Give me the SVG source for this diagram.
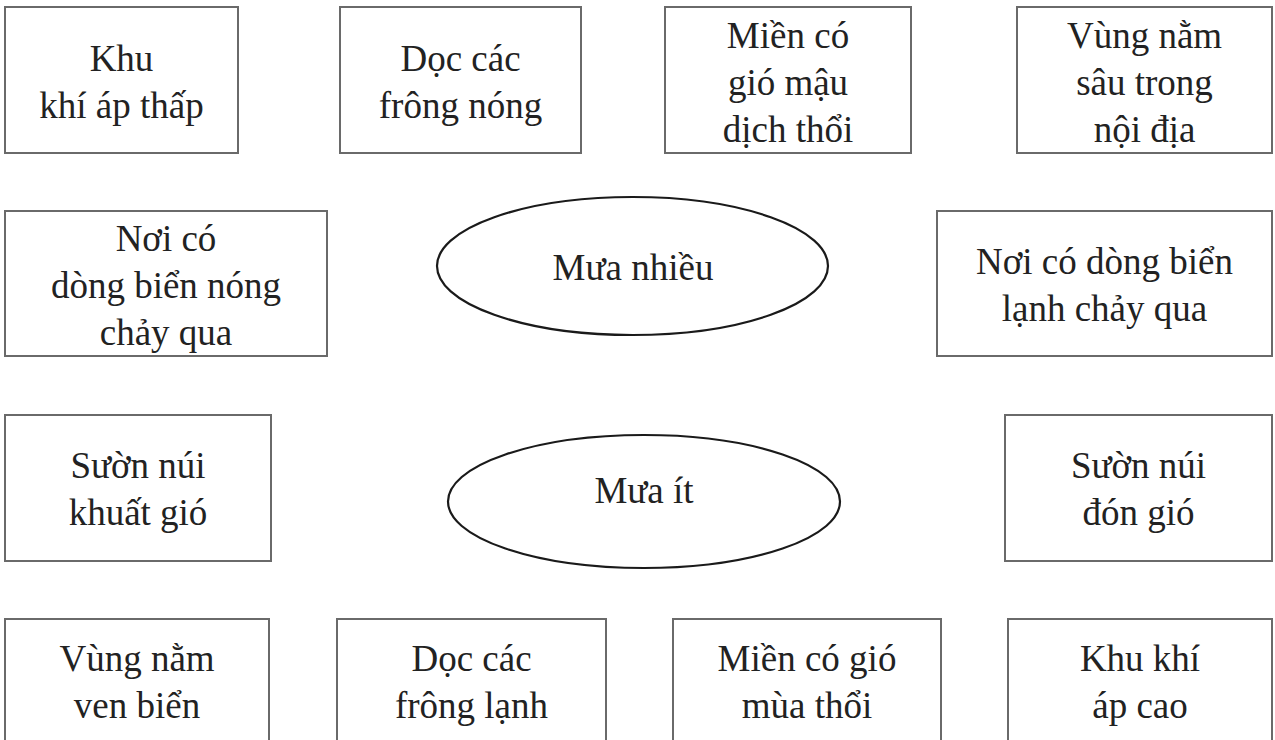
<svg xmlns="http://www.w3.org/2000/svg" width="1275" height="740" viewBox="0 0 1275 740">
<style>
.box{fill:#fff;stroke:#6a6a6a;stroke-width:2}
.ell{fill:#fff;stroke:#1a1a1a;stroke-width:2.2}
text{font-family:"Liberation Serif","Times New Roman",serif;font-size:37px;fill:#222;text-anchor:middle}
</style>
<rect width="1275" height="740" fill="#fff"/>
<g id="connectors"></g>
<g id="n1"><rect class="box" x="5" y="7" width="233" height="146"/><text x="121.5" y="71">Khu</text><text x="121.5" y="118">khí áp thấp</text></g>
<g id="n2"><rect class="box" x="340" y="7" width="241" height="146"/><text x="460.5" y="71">Dọc các</text><text x="460.5" y="118">frông nóng</text></g>
<g id="n3"><rect class="box" x="665" y="7" width="246" height="146"/><text x="788" y="48">Miền có</text><text x="788" y="95">gió mậu</text><text x="788" y="142">dịch thổi</text></g>
<g id="n4"><rect class="box" x="1017" y="7" width="255" height="146"/><text x="1144.5" y="48">Vùng nằm</text><text x="1144.5" y="95">sâu trong</text><text x="1144.5" y="142">nội địa</text></g>
<g id="n5"><rect class="box" x="5" y="211" width="322" height="145"/><text x="166" y="251">Nơi có</text><text x="166" y="298">dòng biển nóng</text><text x="166" y="345">chảy qua</text></g>
<g id="n6"><ellipse class="ell" cx="632.5" cy="266" rx="195.5" ry="69"/><text x="633" y="280">Mưa nhiều</text></g>
<g id="n7"><rect class="box" x="937" y="211" width="335" height="145"/><text x="1104.5" y="274">Nơi có dòng biển</text><text x="1104.5" y="321">lạnh chảy qua</text></g>
<g id="n8"><rect class="box" x="5" y="415" width="266" height="146"/><text x="138" y="478">Sườn núi</text><text x="138" y="525">khuất gió</text></g>
<g id="n9"><ellipse class="ell" cx="644" cy="501.5" rx="196" ry="66.5"/><text x="644" y="503">Mưa ít</text></g>
<g id="n10"><rect class="box" x="1005" y="415" width="267" height="146"/><text x="1138.5" y="478">Sườn núi</text><text x="1138.5" y="525">đón gió</text></g>
<g id="n11"><rect class="box" x="5" y="619" width="264" height="150"/><text x="137" y="671">Vùng nằm</text><text x="137" y="718">ven biển</text></g>
<g id="n12"><rect class="box" x="337" y="619" width="269" height="150"/><text x="471.5" y="671">Dọc các</text><text x="471.5" y="718">frông lạnh</text></g>
<g id="n13"><rect class="box" x="673" y="619" width="268" height="150"/><text x="807" y="671">Miền có gió</text><text x="807" y="718">mùa thổi</text></g>
<g id="n14"><rect class="box" x="1008" y="619" width="264" height="150"/><text x="1140" y="671">Khu khí</text><text x="1140" y="718">áp cao</text></g>
</svg>
